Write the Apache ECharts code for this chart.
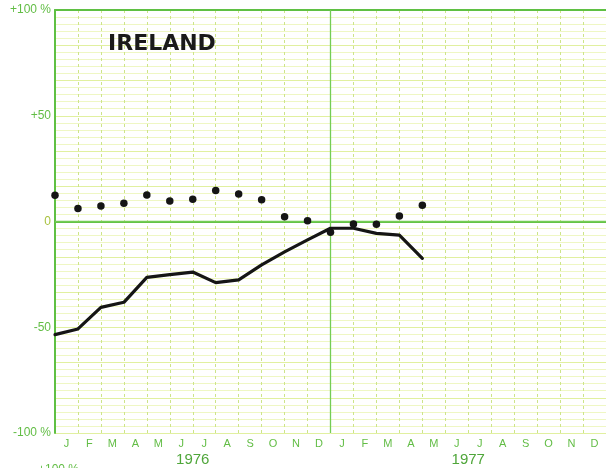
<!DOCTYPE html>
<html>
<head>
<meta charset="utf-8">
<script src="https://cdn.jsdelivr.net/npm/echarts@6/dist/echarts.min.js"></script>
<style>
html,body{margin:0;padding:0;background:#fff;}
#c{width:606px;height:468px;}
</style>
</head>
<body>
<div id="c"></div>
<script>
// month tick labels (two years)
const monthLetters = ['J','F','M','A','M','J','J','A','S','O','N','D','J','F','M','A','M','J','J','A','S','O','N','D'];
const years = ['1976','1977'];
// data points at month boundaries, index 0 = start of Jan 1976
const monthIndex = [0,1,2,3,4,5,6,7,8,9,10,11,12,13,14,15,16];
const lineValues = [-53.5,-50.8,-40.6,-38.2,-26.4,-25.1,-23.9,-28.9,-27.6,-20.5,-14.4,-8.7,-3.2,-3.2,-5.6,-6.4,-17.4];
const dotValues = [12.4,6.2,7.3,8.6,12.5,9.7,10.5,14.7,13.0,10.3,2.3,0.4,-5.1,-1.2,-1.3,2.6,7.7];
const yTickLabels = {'100':'+100 %','50':'+50','0':'0','-50':'-50','-100':'-100 %'};

const green = '#5fc043';
const labelGreen = '#62bd45';

const chart = echarts.init(document.getElementById('c'), null, {renderer:'canvas'});
const catKeys = monthLetters.map((m,i)=>m+'_'+i);

chart.setOption({
  backgroundColor:'#ffffff',
  animation:false,
  title:{
    text:'IRELAND', left:103, top:28,
    textStyle:{fontSize:22, fontWeight:'bold', fontFamily:'DejaVu Sans', color:'#1a1a1a'}
  },
  grid:{left:55, top:10, right:0, bottom:35, containLabel:false},
  xAxis:[
    {type:'category', data:catKeys, boundaryGap:true, position:'bottom',
     axisLine:{show:true, lineStyle:{color:green, width:2}},
     axisTick:{show:false},
     axisLabel:{show:true, interval:0, margin:5, fontSize:11, color:labelGreen, fontFamily:'Liberation Sans',
       formatter:(v,i)=>monthLetters[i]},
     splitLine:{show:false}},
    {type:'category', data:years, boundaryGap:true, position:'bottom',
     axisLine:{show:false}, axisTick:{show:false},
     axisLabel:{show:true, interval:0, margin:19, fontSize:15, color:'#4fa63a', fontFamily:'Liberation Sans'},
     splitLine:{show:false}},
    {type:'value', min:0, max:24, interval:1, position:'top',
     axisLine:{show:true, lineStyle:{color:green, width:2}},
     axisTick:{show:false}, axisLabel:{show:false},
     splitLine:{show:true, lineStyle:{color:'#cde48a', width:1, type:[3,3]}}}
  ],
  yAxis:[
    {type:'value', min:-100, max:100, interval:50,
     axisLine:{show:true, onZero:false, lineStyle:{color:green, width:2}},
     axisTick:{show:false},
     axisLabel:{show:true, margin:4, fontSize:12, fontFamily:'Liberation Sans',
       color:(v)=> (Number(v)===0 ? '#a9c23f' : labelGreen),
       formatter:(v)=>yTickLabels[String(v)]},
     splitLine:{show:false}},
    {type:'value', min:-60, max:60, interval:10,
     axisLine:{show:false}, axisTick:{show:false}, axisLabel:{show:false},
     splitLine:{show:true, lineStyle:{color:'#e1f0a0', width:1}},
     minorTick:{show:false, splitNumber:5},
     minorSplitLine:{show:true, lineStyle:{color:'#eff7c4', width:1}}}
  ],
  series:[
    {type:'line', xAxisIndex:2, yAxisIndex:0,
     data:monthIndex.map((m,i)=>[m, lineValues[i]]),
     showSymbol:false, symbol:'none',
     lineStyle:{color:'#151515', width:3.2, join:'round', cap:'round'}, z:5},
    {type:'scatter', xAxisIndex:2, yAxisIndex:0,
     data:monthIndex.map((m,i)=>[m, dotValues[i]]),
     symbol:'circle', symbolSize:7.5,
     itemStyle:{color:'#151515', opacity:1}, z:6,
     markLine:{silent:true, symbol:'none', label:{show:false},
       lineStyle:{color:'#74cc55', width:1.3, type:'solid', opacity:1},
       data:[{yAxis:0},{xAxis:12}]}}
  ],
  graphic:[
    {type:'text', left:38, top:464, silent:true,
     style:{text:'+100 %', fontSize:12, fontFamily:'Liberation Sans', fill:labelGreen}}
  ]
});
</script>
</body>
</html>
